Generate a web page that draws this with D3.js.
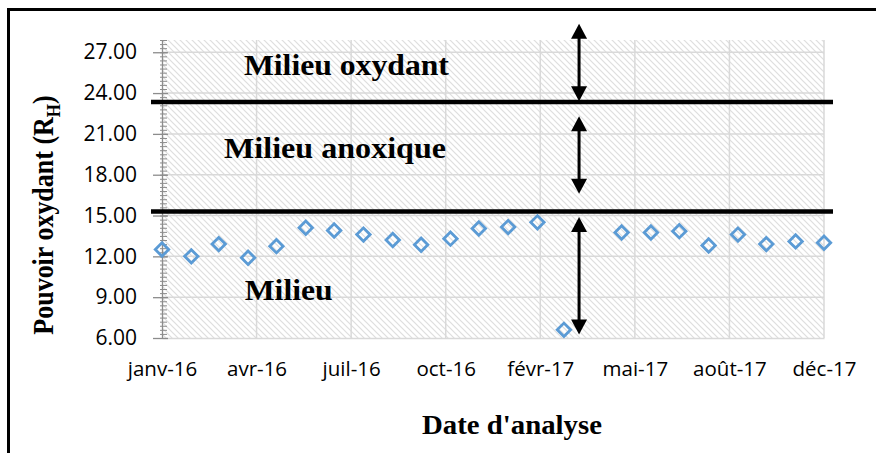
<!DOCTYPE html>
<html>
<head>
<meta charset="utf-8">
<script src="https://cdn.jsdelivr.net/npm/d3@7"></script>
<style>
	body { margin: 0; background: #fff; }
	svg { display: block; }
</style>
</head>
<body>
<div id="draw"></div>
<script>
// monthly samples (avril 2017 missing in the source)
const months = [
	'2016-01', '2016-02', '2016-03', '2016-04', '2016-05', '2016-06',
	'2016-07', '2016-08', '2016-09', '2016-10', '2016-11', '2016-12',
	'2017-01', '2017-02', '2017-03', '2017-05', '2017-06',
	'2017-07', '2017-08', '2017-09', '2017-10', '2017-11', '2017-12'
];
const rhValues = [
	12.5, 12.0, 12.9, 11.9, 12.75, 14.1,
	13.9, 13.6, 13.2, 12.85, 13.3, 14.05,
	14.15, 14.5, 6.6, 13.75, 13.75,
	13.85, 12.8, 13.6, 12.9, 13.1, 13.0
];

// axis ticks (Excel date axis, one label every 100 days)
const xTickDates = ['2016-01-01', '2016-04-10', '2016-07-19', '2016-10-27', '2017-02-04', '2017-05-15', '2017-08-23', '2017-12-01'];
const xTickLabels = ['janv-16', 'avr-16', 'juil-16', 'oct-16', 'févr-17', 'mai-17', 'août-17', 'déc-17'];
const yTicks = [6, 9, 12, 15, 18, 21, 24, 27];

// limits between the zones and the arrows
const limits = [23.35, 15.3];
const arrowDate = '2017-03-17';
const arrows = [[29.1, 23.4], [22.3, 16.6], [14.9, 6.25]];
const zoneLabels = ['Milieu oxydant', 'Milieu anoxique', 'Milieu'];
const zoneDates = ['2016-07-14', '2016-07-02', '2016-05-14'];
const zoneValues = [25.3, 19.2, 8.8];

var W = 876, H = 453;
var margin = { top: 40, right: 52, bottom: 115, left: 162 },
	width = W - margin.left - margin.right,
	height = H - margin.top - margin.bottom;

var parseDay = d3.utcParse('%Y-%m-%d'),
	parseMonth = d3.utcParse('%Y-%m');

var svg = d3
	.select('#draw')
	.append('svg')
	.attr('width', W)
	.attr('height', H);

// hatch pattern for the plot area
var pat = svg.append('defs')
	.append('pattern')
	.attr('id', 'hatch')
	.attr('width', 6)
	.attr('height', 6)
	.attr('patternUnits', 'userSpaceOnUse');
pat.append('rect').attr('width', 6).attr('height', 6).attr('fill', '#fff');
pat.append('path')
	.attr('d', 'M-1,-1L7,7M-1,5L1,7M5,-1L7,1')
	.attr('stroke', '#dedede')
	.attr('stroke-width', 1.2);

// outer frame
svg.append('rect')
	.attr('x', 8.5)
	.attr('y', 9.5)
	.attr('width', 1000)
	.attr('height', 1000)
	.attr('fill', 'none')
	.attr('stroke', '#000')
	.attr('stroke-width', 3);

var g = svg.append('g')
	.attr('transform', 'translate(' + margin.left + ',' + margin.top + ')');

var x = d3.scaleUtc()
	.domain([parseDay('2016-01-01'), parseDay('2017-12-01')])
	.range([0, width]);
var y = d3.scaleLinear()
	.domain([6, 27.9])
	.range([height, 0]);

g.append('rect')
	.attr('width', width)
	.attr('height', height)
	.attr('fill', 'url(#hatch)');

// gridlines
g.append('g')
	.selectAll('line')
	.data(yTicks.slice(1))
	.enter()
	.append('line')
	.attr('x1', 0)
	.attr('x2', width)
	.attr('y1', (d) => y(d))
	.attr('y2', (d) => y(d))
	.attr('stroke', '#d9d9d9')
	.attr('stroke-width', 1.5);
g.append('g')
	.selectAll('line')
	.data(xTickDates.slice(1))
	.enter()
	.append('line')
	.attr('x1', (d) => x(parseDay(d)))
	.attr('x2', (d) => x(parseDay(d)))
	.attr('y1', 0)
	.attr('y2', height)
	.attr('stroke', '#d9d9d9')
	.attr('stroke-width', 1.5);

var tickFont = "'Open Sans', 'Noto Sans', sans-serif";

// x axis
var xAxis = g.append('g')
	.attr('transform', 'translate(0,' + height + ')')
	.call(
		d3.axisBottom(x)
			.tickValues(xTickDates.map(parseDay))
			.tickFormat((d, i) => xTickLabels[i])
			.tickSize(0)
			.tickPadding(23)
	);
xAxis.select('.domain').attr('stroke', '#d9d9d9').attr('stroke-width', 1.5);
xAxis.selectAll('text')
	.style('font-family', tickFont)
	.style('font-size', '20.5px')
	.attr('fill', '#000');

// y axis: minor then major ticks
var minor = d3.range(0, 74).map((i) => 6 + i * 0.3);
var yMinor = g.append('g')
	.call(d3.axisLeft(y).tickValues(minor).tickSize(2).tickFormat(''));
yMinor.select('.domain').remove();
yMinor.selectAll('line').attr('x1', 5).attr('stroke', '#8c8c8c');

var yAxis = g.append('g')
	.call(
		d3.axisLeft(y)
			.tickValues(yTicks)
			.tickFormat(d3.format('.2f'))
			.tickSize(9)
			.tickPadding(16)
			.tickSizeOuter(0)
	);
yAxis.select('.domain').attr('stroke', '#8c8c8c').attr('stroke-width', 1.3);
yAxis.selectAll('line').attr('x1', 6).attr('stroke', '#8c8c8c').attr('stroke-width', 1.3);
yAxis.selectAll('text')
	.style('font-family', tickFont)
	.style('font-size', '21px')
	.attr('fill', '#000');

// zone limits
g.append('g')
	.selectAll('line')
	.data(limits)
	.enter()
	.append('line')
	.attr('x1', -11)
	.attr('x2', width + 9)
	.attr('y1', (d) => y(d))
	.attr('y2', (d) => y(d))
	.attr('stroke', '#000')
	.attr('stroke-width', 4.5);

// points
var diamond = d3.symbol().type(d3.symbolSquare).size(90);
g.append('g')
	.selectAll('path')
	.data(months)
	.enter()
	.append('path')
	.attr('d', diamond)
	.attr('transform', (d, i) => 'translate(' + x(parseMonth(d)) + ',' + y(rhValues[i]) + ') rotate(45)')
	.attr('fill', 'none')
	.attr('stroke', '#5b9bd5')
	.attr('stroke-width', 2.8);

// double arrows
var ax = x(parseDay(arrowDate));
var arr = g.append('g')
	.selectAll('g')
	.data(arrows)
	.enter()
	.append('g');
arr.append('line')
	.attr('x1', ax)
	.attr('x2', ax)
	.attr('y1', (d) => y(d[0]) + 10)
	.attr('y2', (d) => y(d[1]) - 10)
	.attr('stroke', '#000')
	.attr('stroke-width', 3);
arr.append('path')
	.attr('d', (d) => 'M' + ax + ',' + y(d[0]) + 'l8,15h-16z')
	.attr('fill', '#000');
arr.append('path')
	.attr('d', (d) => 'M' + ax + ',' + y(d[1]) + 'l8,-15h-16z')
	.attr('fill', '#000');

// zone labels
var zoneWidths = [205, 222, 88];
g.append('g')
	.selectAll('text')
	.data(zoneLabels)
	.enter()
	.append('text')
	.attr('x', (d, i) => x(parseDay(zoneDates[i])))
	.attr('y', (d, i) => y(zoneValues[i]))
	.attr('text-anchor', 'middle')
	.attr('textLength', (d, i) => zoneWidths[i])
	.attr('lengthAdjust', 'spacingAndGlyphs')
	.style('font-family', "'Liberation Serif', 'Times New Roman', serif")
	.style('font-weight', 'bold')
	.style('font-size', '30px')
	.text((d) => d);

// axis titles
svg.append('text')
	.attr('x', 512)
	.attr('y', 434)
	.attr('text-anchor', 'middle')
	.attr('textLength', 180)
	.attr('lengthAdjust', 'spacingAndGlyphs')
	.style('font-family', "'Liberation Serif', 'Times New Roman', serif")
	.style('font-weight', 'bold')
	.style('font-size', '27px')
	.text("Date d'analyse");

// stretched a little across, like the source picture
var yTitle = svg.append('text')
	.attr('transform', 'translate(53,215) scale(1.15,1) rotate(-90)')
	.attr('text-anchor', 'middle')
	.style('font-family', "'Liberation Serif', 'Times New Roman', serif")
	.style('font-weight', 'bold')
	.style('font-size', '26px');
yTitle.append('tspan').text('Pouvoir oxydant (R');
yTitle.append('tspan').attr('dy', 6).style('font-size', '17px').text('H');
yTitle.append('tspan').attr('dy', -6).text(')');
</script>
</body>
</html>
